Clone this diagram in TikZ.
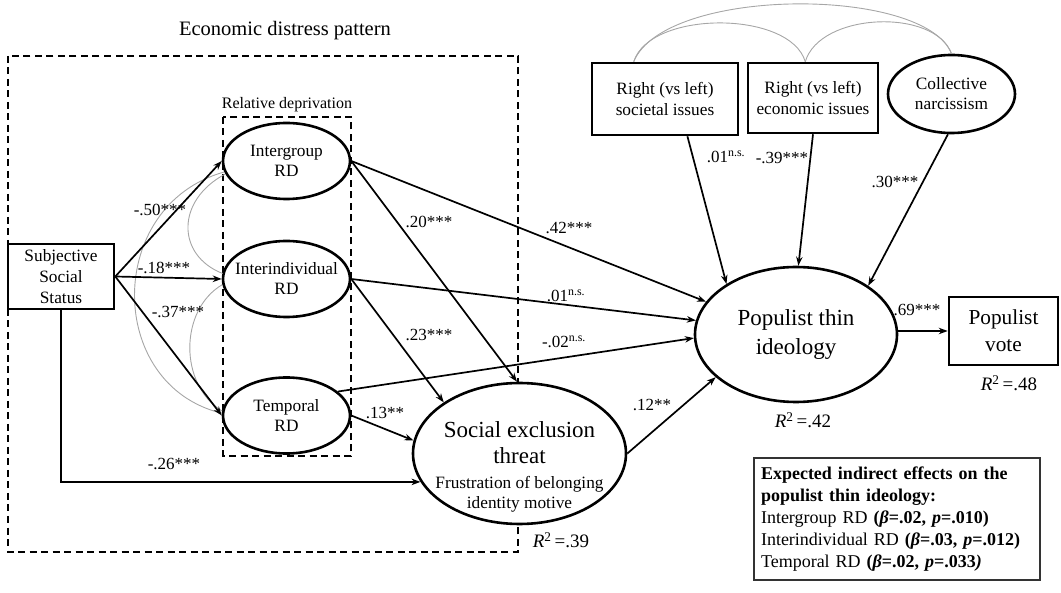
\documentclass[tikz,border=0pt]{standalone}
\usepackage{fontspec}
\setmainfont{Liberation Serif}
\usetikzlibrary{arrows.meta,shapes.geometric}
\begin{document}
\begin{tikzpicture}[x=1pt,y=-1pt,
  latent/.style={ellipse, draw, line width=2.6pt, fill=white, inner sep=-8pt, align=center, font=\fontsize{17.3}{20}\selectfont},
  observed/.style={rectangle, draw, line width=2.6pt, fill=white, inner sep=0pt, align=center, font=\fontsize{17.3}{21}\selectfont},
  effect/.style={-{Stealth[length=9pt,width=6.5pt]}, line width=1.7pt},
  covar/.style={line width=0.9pt, draw=black!35},
  fence/.style={line width=2.2pt, dash pattern=on 7pt off 4.5pt},
  coef/.style={inner sep=0pt, font=\fontsize{17}{19}\selectfont},
  rsq/.style={inner sep=0pt, font=\fontsize{19}{21}\selectfont}]
\useasboundingbox (0,0) rectangle (1061,593);

\draw[fence] (8,56) rectangle (518,552);
\draw[fence] (223,117) rectangle (351,456);
\node[font=\fontsize{20.5}{23}\selectfont] (title) at (285,31) {Economic distress pattern};
\node[font=\fontsize{16}{18}\selectfont] (rdtitle) at (287,105) {Relative deprivation};

\node[observed, minimum width=106pt, minimum height=65pt] (sss) at (61,276.5) {Subjective\\Social\\Status};
\node[latent, minimum width=127pt, minimum height=76pt] (inter) at (286.5,161) {Intergroup\\RD};
\node[latent, minimum width=127pt, minimum height=76pt] (indiv) at (286.5,279) {Interindividual\\RD};
\node[latent, minimum width=127pt, minimum height=76pt] (temp) at (286.5,415.5) {Temporal\\RD};
\node[latent, minimum width=213pt, minimum height=141pt] (sex) at (519.5,453.5) {};
\node[align=center, inner sep=0pt, font=\fontsize{23}{26}\selectfont] (sextext) at (519.5,467) {Social exclusion\\threat\\[-1pt]{\fontsize{17.3}{20}\selectfont Frustration of belonging}\\[-6pt]{\fontsize{17.3}{20}\selectfont identity motive}};
\node[latent, minimum width=202pt, minimum height=135pt, font=\fontsize{23}{29}\selectfont] (pop) at (796,334.5) {Populist thin\\ideology};
\node[observed, minimum width=109pt, minimum height=68pt, font=\fontsize{21.3}{27}\selectfont] (vote) at (1003.5,331) {Populist\\vote};
\node[observed, minimum width=146pt, minimum height=72pt] (soc) at (665,99) {Right (vs left)\\societal issues};
\node[observed, minimum width=130pt, minimum height=70pt] (eco) at (813,98) {Right (vs left)\\economic issues};
\node[latent, minimum width=127pt, minimum height=78pt] (nar) at (951.5,94) {Collective\\narcissism};
\node[draw=black!80, line width=1.3pt, inner xsep=7pt, inner ysep=0pt, minimum height=122pt, text width=272pt, align=left, font=\fontsize{18}{22}\selectfont] (legend) at (897,519) {\textbf{Expected indirect effects on the}\\\textbf{populist thin ideology:}\\Intergroup RD \textbf{(\textit{β}=.02, \textit{p}=.010)}\\Interindividual RD \textbf{(\textit{β}=.03, \textit{p}=.012)}\\Temporal RD \textbf{(\textit{β}=.02, \textit{p}=.033\textit{)}}};

\draw[covar] (inter.190) .. controls (105,205) and (105,385) .. (temp.178);
\draw[covar] (inter.192) .. controls (176,200) and (176,255) .. (indiv.175);
\draw[covar] (indiv.185) .. controls (179,310) and (179,385) .. (temp.176);
\draw[covar] (soc.130) .. controls (650,10) and (790,10) .. (eco.102);
\draw[covar] (eco.102) .. controls (820,12) and (935,8) .. (nar.north);
\draw[covar] (soc.130) .. controls (665,-14) and (925,-14) .. (nar.north);

\draw[effect] (sss.east) -- (inter.west);
\draw[effect] (sss.east) -- (indiv.west);
\draw[effect] (sss.east) -- (temp.west);
\draw[effect] (sss.south) |- (sex.196);
\draw[effect] (inter.east) -- (sex.92);
\draw[effect] (indiv.east) -- (sex.146);
\draw[effect] (temp.east) -- (sex.173);
\draw[effect] (inter.east) -- (pop.160);
\draw[effect] (indiv.east) -- (pop.172);
\draw[effect] (temp.25) -- (pop.182);
\draw[effect] (sex.east) -- (pop.208);
\draw[effect] (soc.-59) -- (pop.144);
\draw[effect] (eco.south) -- (pop.88);
\draw[effect] (nar.-95) -- (pop.34);
\draw[effect] (pop.east |- vote.west) -- (vote.west);

\node[coef] (c50) at (160,210) {-.50***};
\node[coef] (c18) at (164,268) {-.18***};
\node[coef] (c37) at (178,312) {-.37***};
\node[coef] (c26) at (174,464) {-.26***};
\node[coef] (c13) at (385,413) {.13**};
\node[coef] (c20) at (429,222) {.20***};
\node[coef] (c23) at (429,335) {.23***};
\node[coef] (c42) at (569,228) {.42***};
\node[coef] (c01a) at (566,296) {.01\textsuperscript{n.s.}};
\node[coef] (c02) at (564,342) {-.02\textsuperscript{n.s.}};
\node[coef] (c12) at (652,405) {.12**};
\node[coef] (c01b) at (726,157) {.01\textsuperscript{n.s.}};
\node[coef] (c39) at (782,158) {-.39***};
\node[coef] (c30) at (895,182) {.30***};
\node[coef] (c69) at (917,310) {.69***};
\node[rsq] (r2sex) at (561,540) {\textit{R}\textsuperscript{2}\,=.39};
\node[rsq] (r2pop) at (803,420) {\textit{R}\textsuperscript{2}\,=.42};
\node[rsq] (r2vote) at (1009,383) {\textit{R}\textsuperscript{2}\,=.48};
\end{tikzpicture}
\end{document}
